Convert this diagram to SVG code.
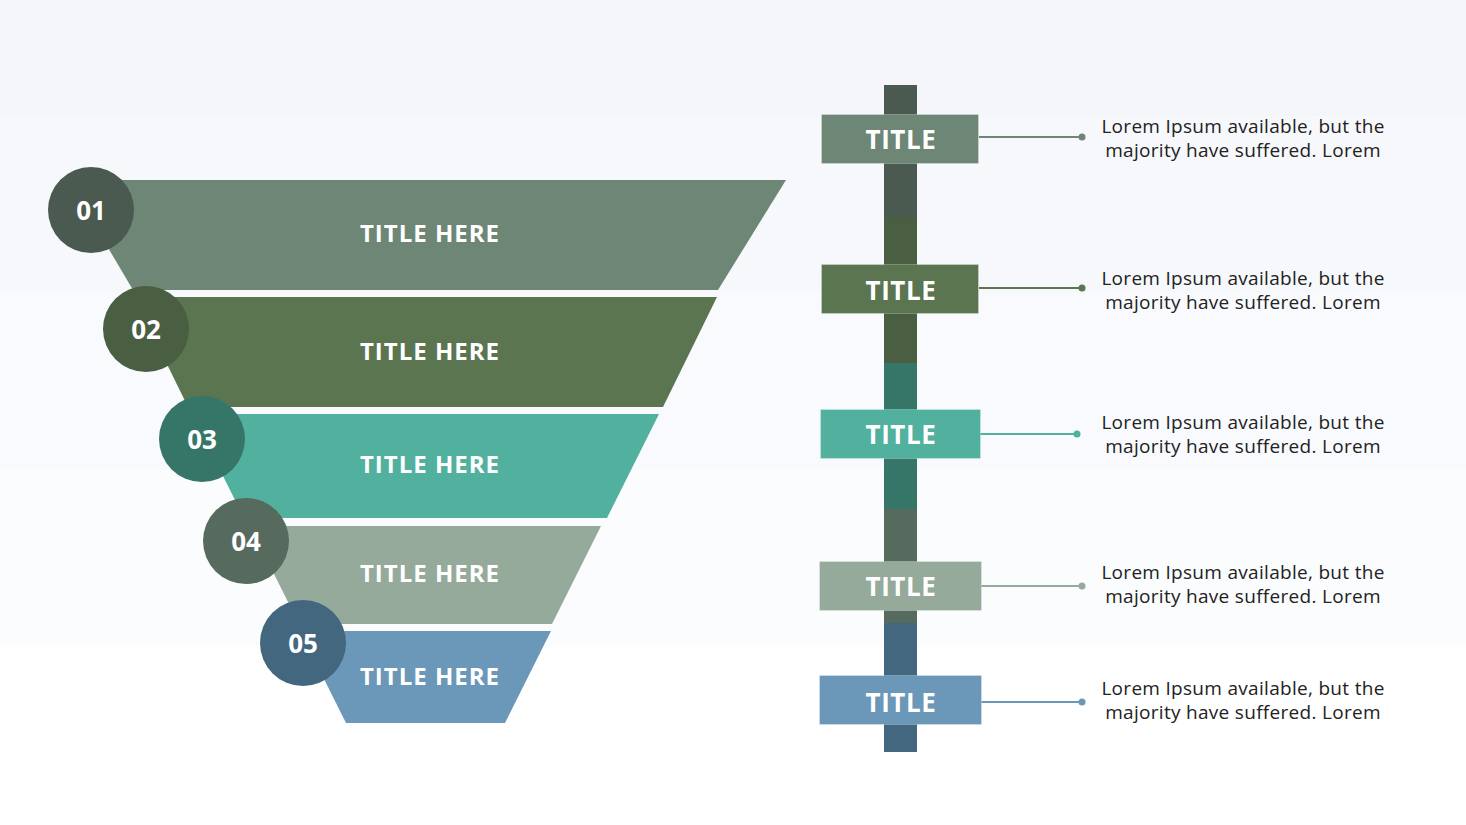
<svg xmlns="http://www.w3.org/2000/svg" width="1466" height="825" viewBox="0 0 1466 825">
<style>
.lbl{font-family:"Open Sans","Liberation Sans",sans-serif;font-weight:700;fill:#ffffff;text-anchor:middle}
.big{font-size:24px;letter-spacing:1px}
.num{font-size:26px}
.tt{font-size:26px;letter-spacing:0.6px}
.desc{font-family:"Open Sans","Liberation Sans",sans-serif;font-size:19px;letter-spacing:0.3px;fill:#222222;text-anchor:middle}
.box{stroke:#ffffff;stroke-opacity:0.25;stroke-width:1}
</style>
<g id="background">
<rect x="0" y="0" width="1466" height="116" fill="#f5f6fa"/>
<rect x="0" y="116" width="1466" height="177" fill="#f7f8fb"/>
<rect x="0" y="293" width="1466" height="177" fill="#f9fafd"/>
<rect x="0" y="470" width="1466" height="177" fill="#fbfcfd"/>
<rect x="0" y="647" width="1466" height="178" fill="#ffffff"/>
</g>
<g id="funnel-1">
<polygon points="68,180 786,180 718,290 133,290" fill="#6e8676"/>
<text class="lbl big" x="430" y="242">TITLE HERE</text>
</g>
<g id="funnel-2">
<polygon points="134,297 717,297 663,407 188,407" fill="#5a7550"/>
<text class="lbl big" x="430" y="360">TITLE HERE</text>
</g>
<g id="funnel-3">
<polygon points="192,414 659,414 607,518 244,518" fill="#52b09e"/>
<text class="lbl big" x="430" y="473">TITLE HERE</text>
</g>
<g id="funnel-4">
<polygon points="250,526 601,526 552,624 299,624" fill="#96aa9c"/>
<text class="lbl big" x="430" y="582">TITLE HERE</text>
</g>
<g id="funnel-5">
<polygon points="300,631 551,631 505,723 346,723" fill="#6b97b8"/>
<text class="lbl big" x="430" y="685">TITLE HERE</text>
</g>
<g id="badge-1">
<circle cx="91" cy="210" r="43" fill="#4a5a50"/>
<text class="lbl num" x="91" y="220">01</text>
</g>
<g id="badge-2">
<circle cx="146" cy="329" r="43" fill="#4a5e42"/>
<text class="lbl num" x="146" y="339">02</text>
</g>
<g id="badge-3">
<circle cx="202" cy="439" r="43" fill="#357668"/>
<text class="lbl num" x="202" y="449">03</text>
</g>
<g id="badge-4">
<circle cx="246" cy="541" r="43" fill="#566a5e"/>
<text class="lbl num" x="246" y="551">04</text>
</g>
<g id="badge-5">
<circle cx="303" cy="643" r="43" fill="#42677f"/>
<text class="lbl num" x="303" y="653">05</text>
</g>
<g id="timeline-bar">
<rect x="884" y="85" width="33" height="132" fill="#4a5a50"/>
<rect x="884" y="217" width="33" height="146" fill="#4a5e42"/>
<rect x="884" y="363" width="33" height="146" fill="#357668"/>
<rect x="884" y="509" width="33" height="114" fill="#566a5e"/>
<rect x="884" y="623" width="33" height="129" fill="#42677f"/>
</g>
<g id="connectors" stroke-width="2">
<line x1="979" y1="137" x2="1082" y2="137" stroke="#6e8676"/>
<circle cx="1082" cy="137" r="3.5" fill="#6e8676"/>
<line x1="979" y1="288" x2="1082" y2="288" stroke="#5a7550"/>
<circle cx="1082" cy="288" r="3.5" fill="#5a7550"/>
<line x1="980" y1="434" x2="1077" y2="434" stroke="#52b09e"/>
<circle cx="1077" cy="434" r="3.5" fill="#52b09e"/>
<line x1="981" y1="586" x2="1082" y2="586" stroke="#96aa9c"/>
<circle cx="1082" cy="586" r="3.5" fill="#96aa9c"/>
<line x1="981" y1="702" x2="1082" y2="702" stroke="#6b97b8"/>
<circle cx="1082" cy="702" r="3.5" fill="#6b97b8"/>
</g>
<g id="title-1">
<rect class="box" x="821.5" y="114.5" width="157" height="49" fill="#6e8676"/>
<text class="lbl tt" x="901" y="149">TITLE</text>
</g>
<g id="title-2">
<rect class="box" x="821.5" y="264.5" width="157" height="49" fill="#5a7550"/>
<text class="lbl tt" x="901" y="300">TITLE</text>
</g>
<g id="title-3">
<rect class="box" x="820.5" y="409.5" width="160" height="49" fill="#52b09e"/>
<text class="lbl tt" x="901" y="444">TITLE</text>
</g>
<g id="title-4">
<rect class="box" x="819.5" y="561.5" width="162" height="49" fill="#96aa9c"/>
<text class="lbl tt" x="901" y="596">TITLE</text>
</g>
<g id="title-5">
<rect class="box" x="819.5" y="675.5" width="162" height="49" fill="#6b97b8"/>
<text class="lbl tt" x="901" y="712">TITLE</text>
</g>
<g id="desc-1">
<text class="desc" x="1243" y="133">Lorem Ipsum available, but the</text>
<text class="desc" x="1243" y="157">majority have suffered. Lorem</text>
</g>
<g id="desc-2">
<text class="desc" x="1243" y="285">Lorem Ipsum available, but the</text>
<text class="desc" x="1243" y="309">majority have suffered. Lorem</text>
</g>
<g id="desc-3">
<text class="desc" x="1243" y="429">Lorem Ipsum available, but the</text>
<text class="desc" x="1243" y="453">majority have suffered. Lorem</text>
</g>
<g id="desc-4">
<text class="desc" x="1243" y="579">Lorem Ipsum available, but the</text>
<text class="desc" x="1243" y="603">majority have suffered. Lorem</text>
</g>
<g id="desc-5">
<text class="desc" x="1243" y="695">Lorem Ipsum available, but the</text>
<text class="desc" x="1243" y="719">majority have suffered. Lorem</text>
</g>
</svg>
